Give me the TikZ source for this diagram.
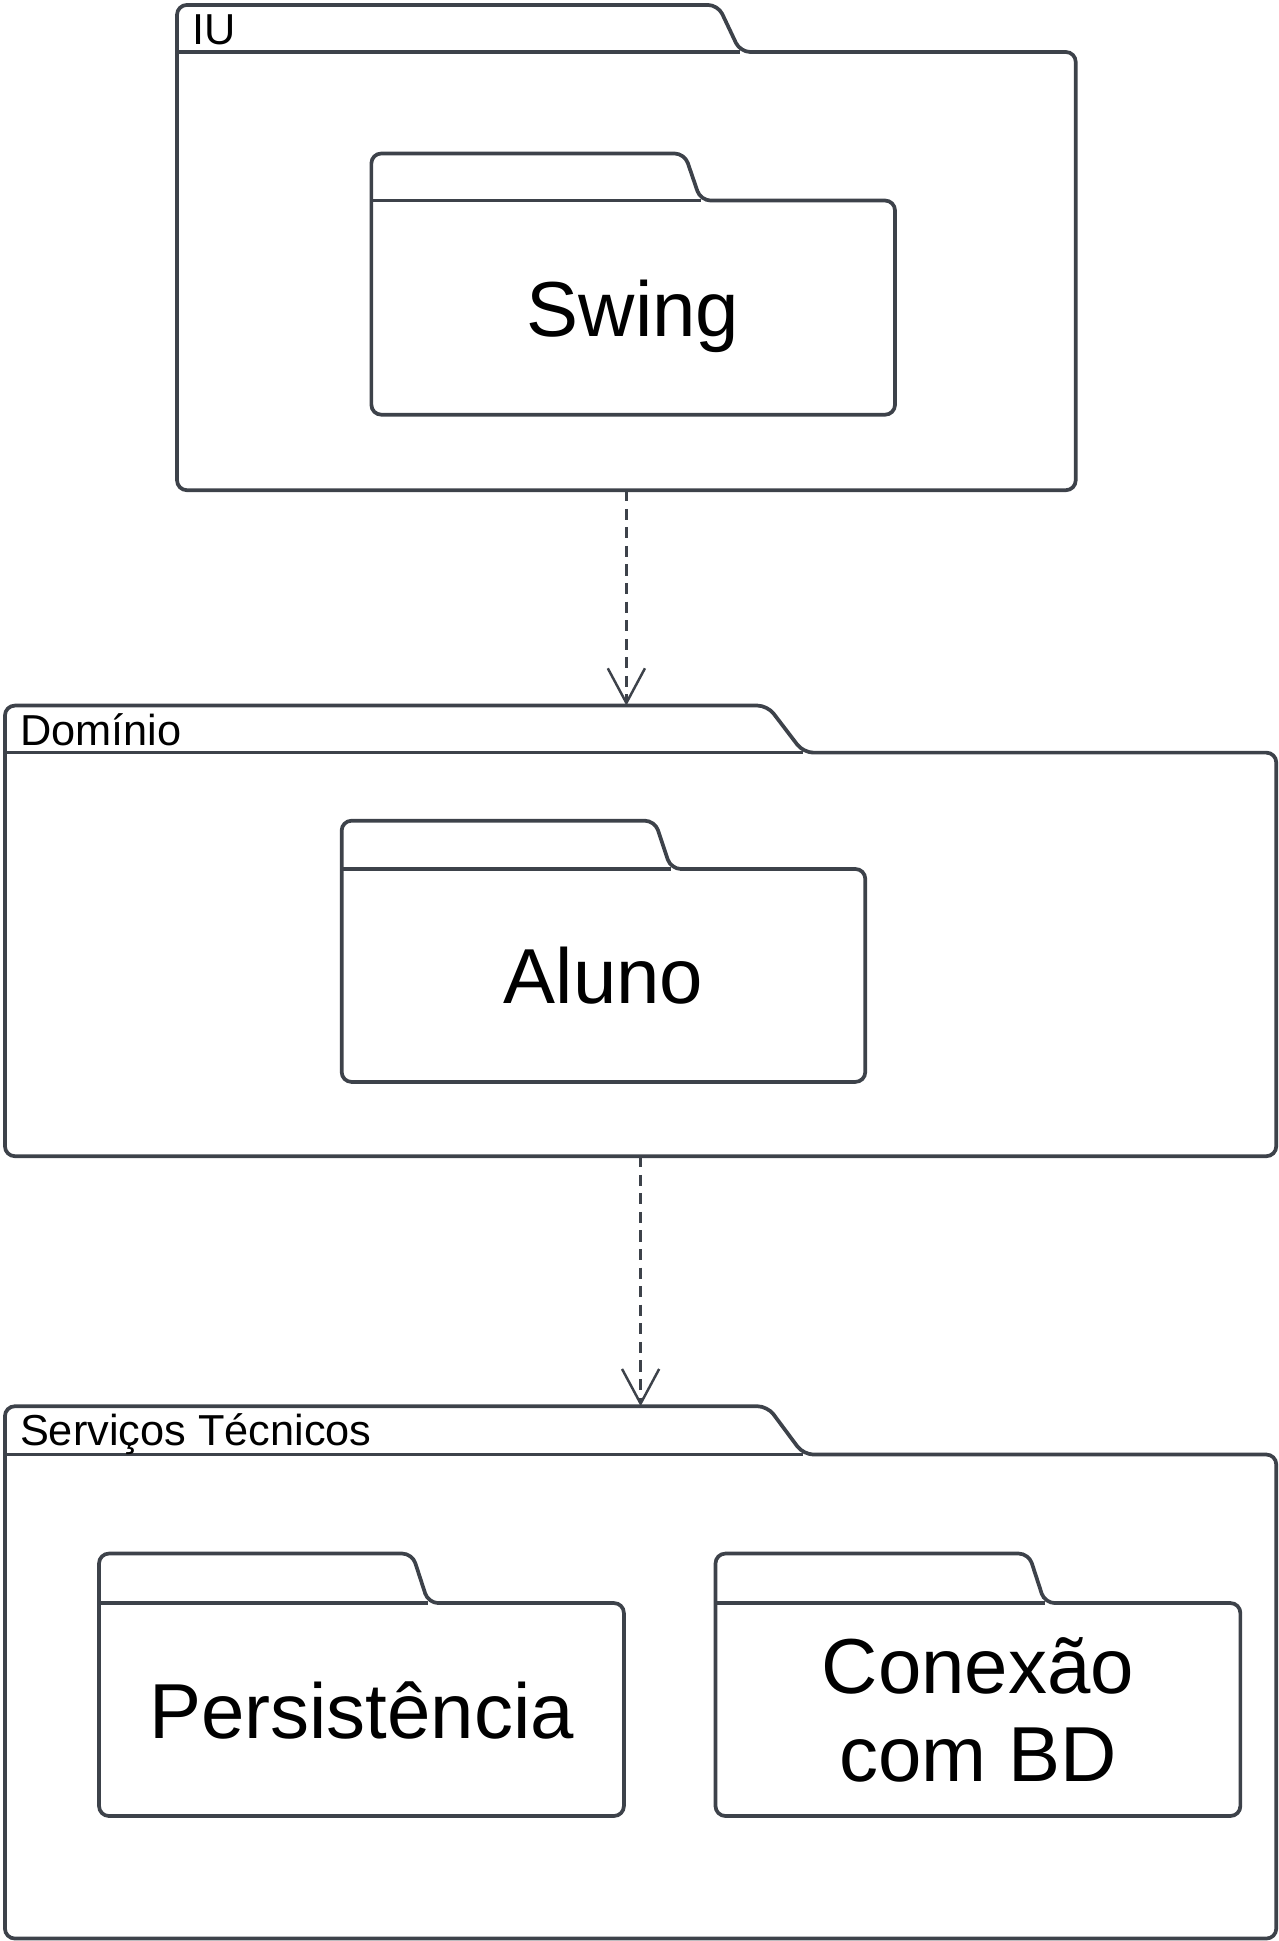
\documentclass[tikz,border=0pt]{standalone}
\usepackage{fontspec}
\setmainfont{Liberation Sans}
\usepackage{xcolor}
\usetikzlibrary{
    arrows.meta,
    calc,
    positioning
}
\definecolor{pkgline}{HTML}{3D424A}
\tikzset{
    pkg/.style={draw=pkgline, line width=3pt, rounded corners=8pt},
    pkglbl/.style={font=\fontsize{35}{40}\selectfont, inner sep=0pt, anchor=base west},
    pkgname/.style={font=\fontsize{63}{71}\selectfont, align=center, inner sep=0pt},
    area/.style={inner sep=0pt, outer sep=0pt, anchor=north west},
    depends/.style={draw=pkgline, line width=2pt, dash pattern=on 9pt off 6pt,
        -{Straight Barb[length=28pt, width=30pt, line width=2pt]}}
}

\begin{document}
\begin{tikzpicture}[x=1pt, y=-1pt]
                        \useasboundingbox (0, 0) rectangle (1033, 1568);
                        \begin{scope}[shift={(143, 4)}]
                            \draw[pkg] (0, 392) -- (0, 0) -- (437, 0) -- (455, 38) -- (726, 38) -- (726, 392) -- cycle;
                            \draw[pkg] (0, 38) -- (455, 38);
                            \node[area, minimum width=437pt, minimum height=38pt] (iu-tab) at (0, 0) {};
                            \node[area, minimum width=726pt, minimum height=354pt] (iu) at (0, 38) {};
                            \node[pkglbl] (iu-lbl) at (12, 32) {IU};
                        \end{scope}
                        \begin{scope}[shift={(300, 124)}]
                            \draw[pkg] (0, 211) -- (0, 0) -- (253, 0) -- (266, 38) -- (423, 38) -- (423, 211) -- cycle;
                            \draw[pkg] (0, 38) -- (266, 38);
                            \node[area, minimum width=423pt, minimum height=173pt] (swing) at (0, 38) {};
                        \end{scope}
                        \node[pkgname, anchor=base] (swing-txt) at ($(swing.center)+(0, 23)$) {Swing};
                        \begin{scope}[shift={(4, 570)}]
                            \draw[pkg] (0, 364) -- (0, 0) -- (616, 0) -- (645, 38) -- (1027, 38) -- (1027, 364) -- cycle;
                            \draw[pkg] (0, 38) -- (645, 38);
                            \node[area, minimum width=616pt, minimum height=38pt] (dominio-tab) at (0, 0) {};
                            \node[area, minimum width=1027pt, minimum height=326pt] (dominio) at (0, 38) {};
                            \node[pkglbl] (dominio-lbl) at (12, 32) {Domínio};
                        \end{scope}
                        \begin{scope}[shift={(276, 663)}]
                            \draw[pkg] (0, 211) -- (0, 0) -- (253, 0) -- (266, 39) -- (423, 39) -- (423, 211) -- cycle;
                            \draw[pkg] (0, 39) -- (266, 39);
                            \node[area, minimum width=423pt, minimum height=172pt] (aluno) at (0, 39) {};
                        \end{scope}
                        \node[pkgname, anchor=base] (aluno-txt) at ($(aluno.center)+(0, 23)$) {Aluno};
                        \begin{scope}[shift={(4, 1136)}]
                            \draw[pkg] (0, 430) -- (0, 0) -- (616, 0) -- (645, 39) -- (1027, 39) -- (1027, 430) -- cycle;
                            \draw[pkg] (0, 39) -- (645, 39);
                            \node[area, minimum width=616pt, minimum height=39pt] (servicos-tab) at (0, 0) {};
                            \node[area, minimum width=1027pt, minimum height=391pt] (servicos) at (0, 39) {};
                            \node[pkglbl] (servicos-lbl) at (12, 32) {Serviços Técnicos};
                        \end{scope}
                        \begin{scope}[shift={(80, 1255)}]
                            \draw[pkg] (0, 212) -- (0, 0) -- (253, 0) -- (266, 40) -- (424, 40) -- (424, 212) -- cycle;
                            \draw[pkg] (0, 40) -- (266, 40);
                            \node[area, minimum width=424pt, minimum height=172pt] (persistencia) at (0, 40) {};
                        \end{scope}
                        \node[pkgname, anchor=base] (persistencia-txt) at ($(persistencia.center)+(0, 23)$) {Persistência};
                        \begin{scope}[shift={(578, 1255)}]
                            \draw[pkg] (0, 212) -- (0, 0) -- (253, 0) -- (266, 40) -- (424, 40) -- (424, 212) -- cycle;
                            \draw[pkg] (0, 40) -- (266, 40);
                            \node[area, minimum width=424pt, minimum height=172pt] (conexao) at (0, 40) {};
                        \end{scope}
                        \node[pkgname] (conexao-txt) at (conexao.center) {Conexão\\com BD};
                        \draw[depends] (iu.south) -- (iu.south |- dominio-tab.north);
                        \draw[depends] (dominio.south) -- (dominio.south |- servicos-tab.north);
\end{tikzpicture}
\end{document}
